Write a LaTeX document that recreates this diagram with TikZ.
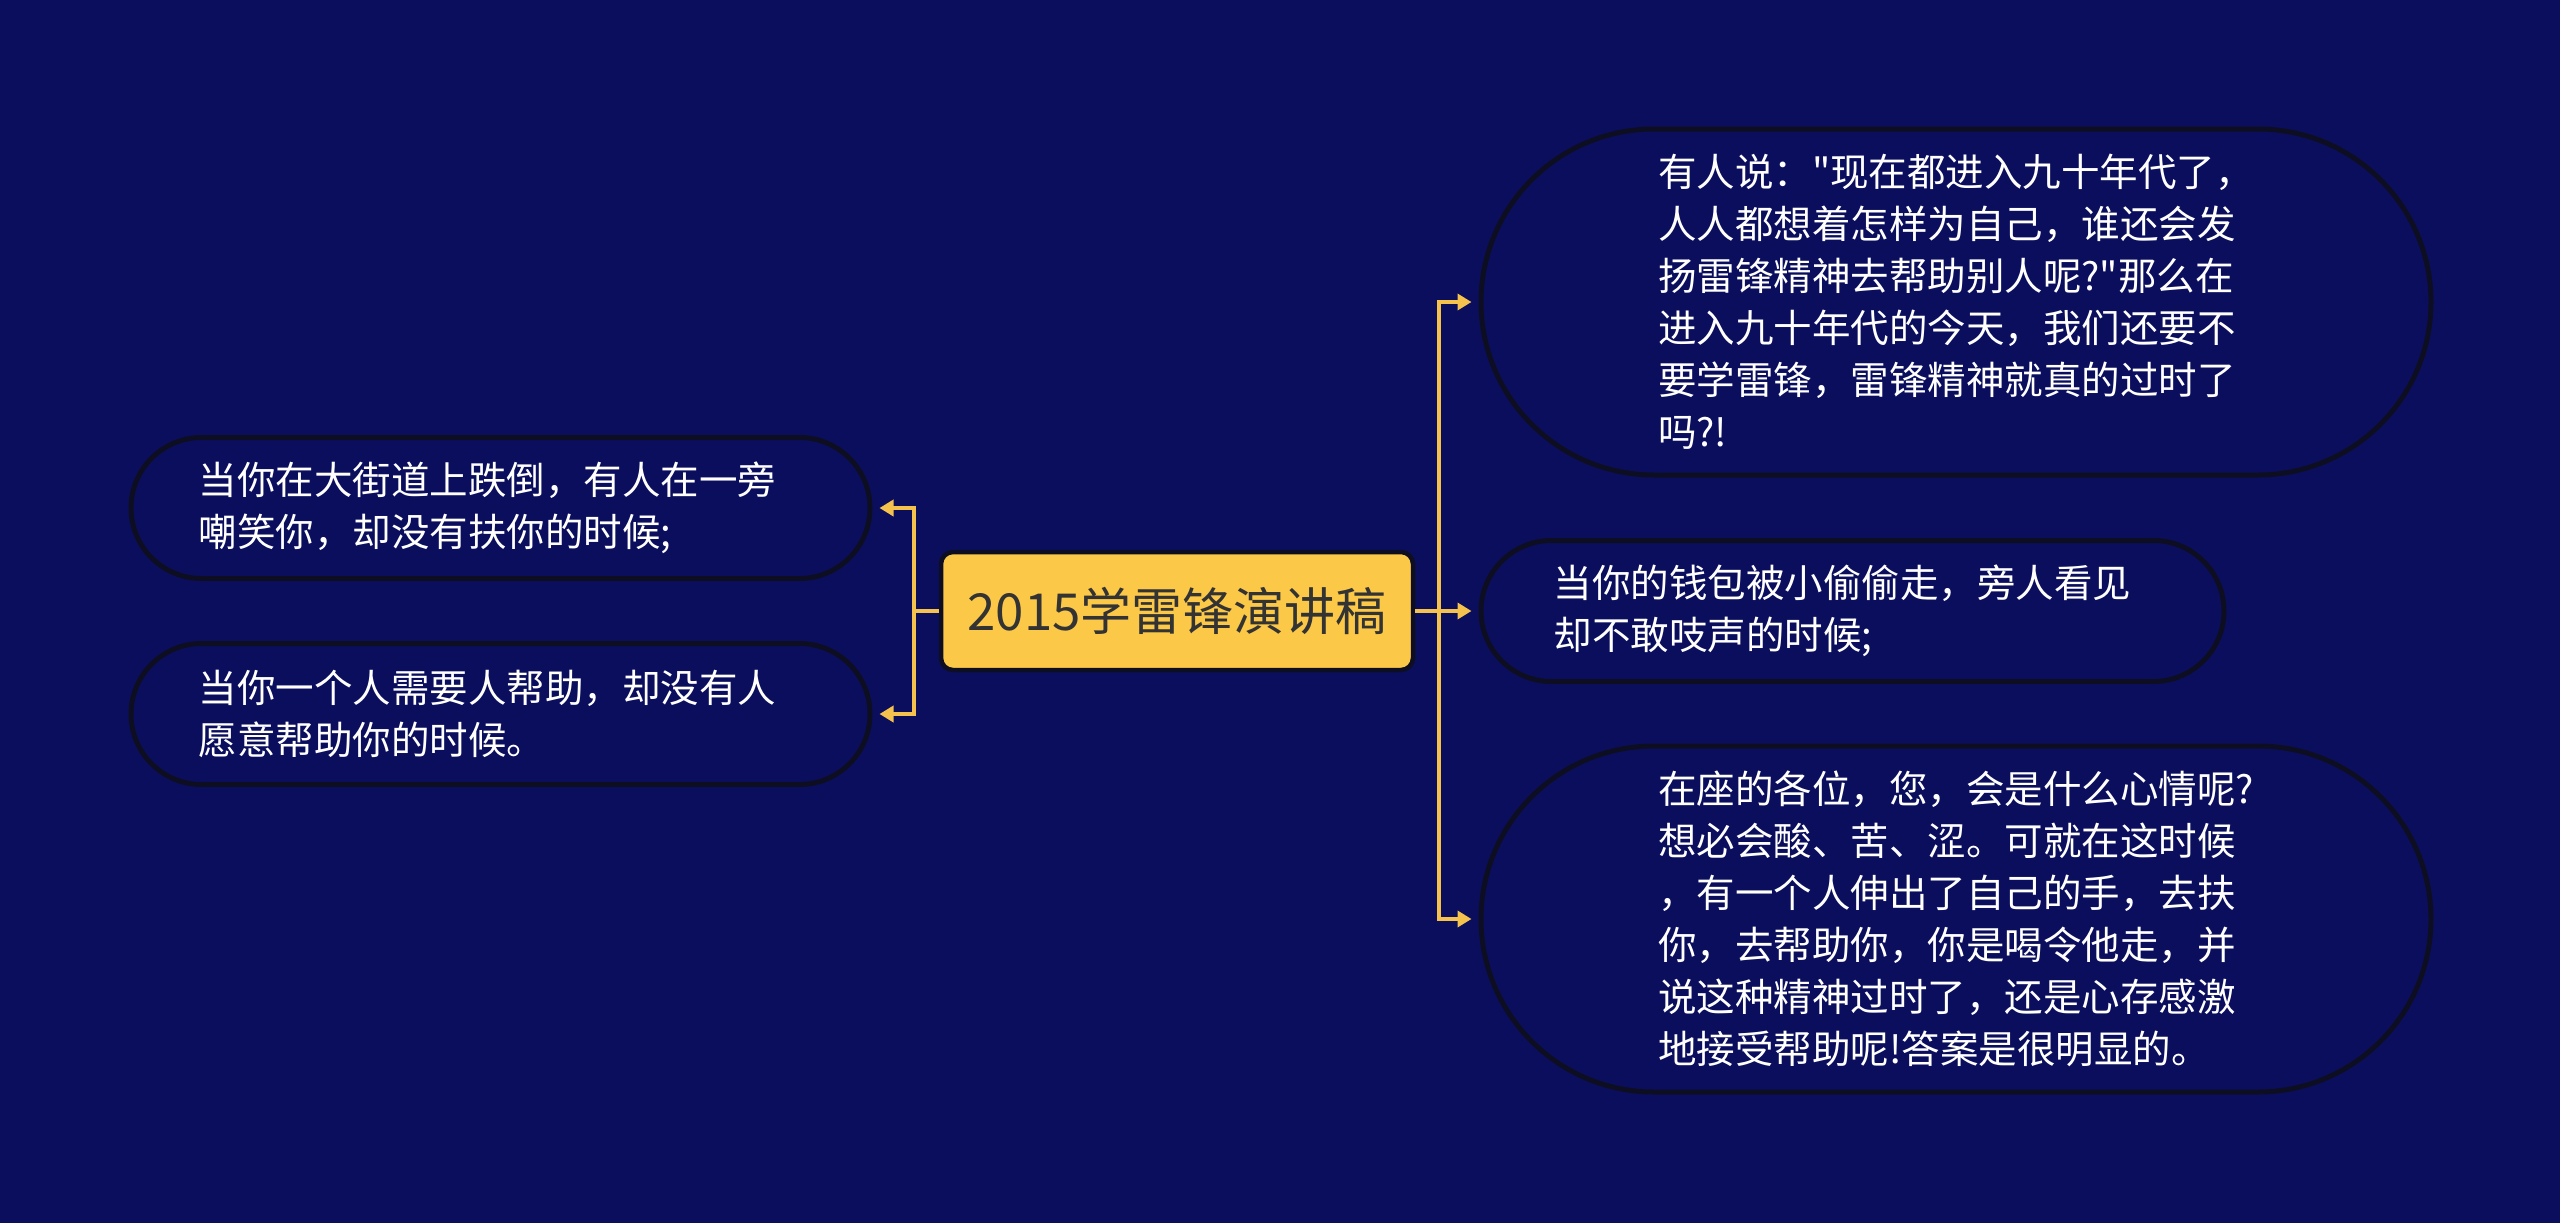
\documentclass[tikz,border=0pt]{standalone}
\usepackage{fontspec}
\newfontfamily\cjk{Noto Sans CJK SC}
\usetikzlibrary{shapes.misc,arrows.meta}
\definecolor{bgc}{HTML}{0A0E5C}
\definecolor{bordc}{HTML}{0E0E22}
\definecolor{yel}{HTML}{FCC848}
\definecolor{linec}{HTML}{F6C24E}
\definecolor{ctext}{HTML}{333333}
\tikzset{
  leaf/.style={rounded rectangle, draw=bordc, line width=5pt, fill=bgc,
    text=white, align=left, inner sep=0pt,
    font=\cjk\fontsize{38.5}{52}\selectfont},
  root/.style={rounded corners=12pt, draw=bordc, line width=4.5pt, fill=yel,
    text=ctext, inner sep=0pt, minimum width=472pt, minimum height=118pt,
    font=\cjk\fontsize{51}{60}\selectfont},
  conn/.style={draw=linec, line width=4pt,
    -{Triangle[length=14pt,width=16pt]}, shorten >=7pt},
}
\begin{document}
\begin{tikzpicture}[x=1pt,y=-1pt]
\fill[bgc] (0,0) rectangle (2560,1223);
\useasboundingbox (0,0) rectangle (2560,1223);

\node[root] (c) at (1177,611) {2015学雷锋演讲稿};

\node[leaf, minimum width=739pt, minimum height=141pt] (l1) at (500.5,508)
  {当你在大街道上跌倒，有人在一旁\hspace*{26pt}\\嘲笑你，却没有扶你的时候;};
\node[leaf, minimum width=739pt, minimum height=141pt] (l2) at (500.5,714)
  {当你一个人需要人帮助，却没有人\hspace*{26pt}\\愿意帮助你的时候。};

\node[leaf, minimum width=950pt, minimum height=346pt] (r1) at (1956,302)
  {有人说："现在都进入九十年代了，\\人人都想着怎样为自己，谁还会发\\扬雷锋精神去帮助别人呢?"那么在\\进入九十年代的今天，我们还要不\\要学雷锋，雷锋精神就真的过时了\\吗?!};
\node[leaf, minimum width=743pt, minimum height=141pt] (r2) at (1852.5,611)
  {当你的钱包被小偷偷走，旁人看见\hspace*{20pt}\\却不敢吱声的时候;};
\node[leaf, minimum width=950pt, minimum height=346pt] (r3) at (1956,919)
  {在座的各位，您，会是什么心情呢?\\想必会酸、苦、涩。可就在这时候\\，有一个人伸出了自己的手，去扶\\你，去帮助你，你是喝令他走，并\\说这种精神过时了，还是心存感激\\地接受帮助呢!答案是很明显的。};

\draw[conn] (c.west) -- ++(-25,0) |- (l1.east);
\draw[conn] (c.west) -- ++(-25,0) |- (l2.east);
\draw[conn] (c.east) -- ++(24,0) |- (r1.west);
\draw[conn] (c.east) -- ++(24,0) |- (r2.west);
\draw[conn] (c.east) -- ++(24,0) |- (r3.west);
\end{tikzpicture}
\end{document}
